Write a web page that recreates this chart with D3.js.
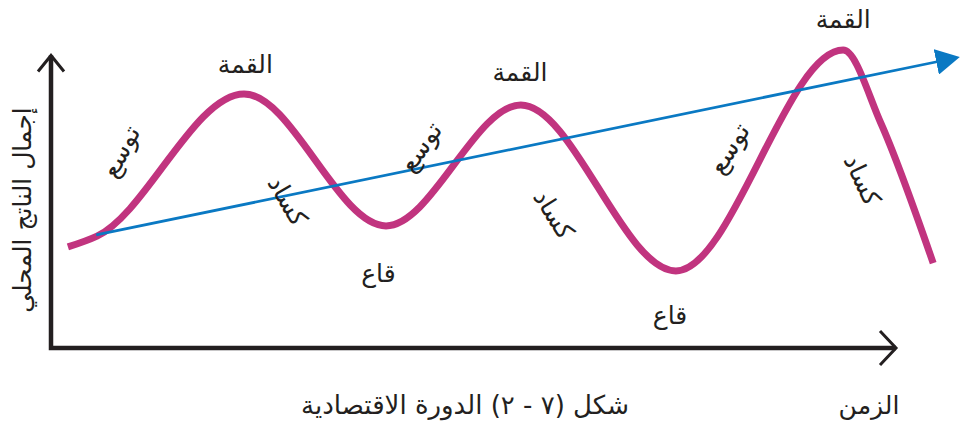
<!DOCTYPE html>
<html>
<head>
<meta charset="utf-8">
<script src="https://cdn.jsdelivr.net/npm/d3@7"></script>
<style>
  body { margin: 0; background: #fff; }
  svg text { font-family: "DejaVu Sans", "Noto Sans", sans-serif; fill: #231f20; }
</style>
</head>
<body>
<svg width="965" height="428"></svg>
<script>
// business cycle: time (t) vs GDP (v), in arbitrary units
var cycleT = [0.40, 1.09, 4.57, 7.93, 11.12, 14.79, 18.75, 19.64, 20.88];
var cycleV = [3.37, 3.73, 8.47, 4.07, 8.10, 2.57, 9.93, 7.50, 2.83];

var trendT = [1.07, 21.0];
var trendV = [3.77, 9.55];

// labels: text, t, v, rotation
var labelText = ["القمة", "القمة", "القمة", "قاع", "قاع",
                 "توسع", "توسع", "توسع", "كساد", "كساد", "كساد"];
var labelT = [4.60, 11.10, 18.75, 7.75, 14.65, 1.65, 8.75, 16.05, 5.60, 11.90, 19.2];
var labelV = [9.45, 9.20, 10.95, 2.50, 1.10, 6.55, 6.70, 6.65, 4.90, 4.45, 5.60];
var labelRot = [0, 0, 0, 0, 0, -62, -55, -58, 60, 58, 65];

var yTitle = "إجمال الناتج المحلي";
var xTitle = "الزمن";
var caption = "شكل (٧ - ٢) الدورة الاقتصادية";

var svg = d3.select("svg"),
    width = +svg.attr("width"),
    height = +svg.attr("height");

var x = d3.scaleLinear().domain([0, 20]).range([51, 896]);
var y = d3.scaleLinear().domain([0, 10]).range([348, 48]);

var axisColor = "#231f20",
    magenta = "#c1347f",
    blue = "#0a79c3";

var defs = svg.append("defs");
defs.append("marker")
    .attr("id", "blueHead")
    .attr("markerUnits", "userSpaceOnUse")
    .attr("viewBox", "0 -13 24 26")
    .attr("refX", 2)
    .attr("refY", 0)
    .attr("markerWidth", 24)
    .attr("markerHeight", 26)
    .attr("orient", "auto")
  .append("path")
    .attr("d", "M0,-13L24,0L0,13Z")
    .attr("fill", blue);

// axes
var axes = svg.append("g").attr("class", "axes")
    .attr("fill", "none")
    .attr("stroke", axisColor)
    .attr("stroke-width", 4.5);

axes.append("path")
    .attr("d", d3.line()([[x(0), y(9.75)], [x(0), y(0)], [x(20), y(0)]]))
    .attr("stroke-linejoin", "miter");

// open arrow heads
axes.append("path")
    .attr("stroke-width", 3)
    .attr("d", d3.line()([[x(0) - 13, y(9.75) + 16], [x(0), y(9.75)], [x(0) + 13, y(9.75) + 16]]));
axes.append("path")
    .attr("stroke-width", 3)
    .attr("d", d3.line()([[x(20) - 16, y(0) - 17], [x(20), y(0)], [x(20) - 16, y(0) + 17]]));

// cycle curve
var cycle = d3.zip(cycleT, cycleV);
svg.append("path")
    .datum(cycle)
    .attr("fill", "none")
    .attr("stroke", magenta)
    .attr("stroke-width", 7)
    .attr("stroke-linecap", "butt")
    .attr("d", d3.line()
      .x(function(d) { return x(d[0]); })
      .y(function(d) { return y(d[1]); })
      .curve(d3.curveMonotoneX));

// trend line
svg.append("path")
    .datum(d3.zip(trendT, trendV))
    .attr("fill", "none")
    .attr("stroke", blue)
    .attr("stroke-width", 2.8)
    .attr("marker-end", "url(#blueHead)")
    .attr("d", d3.line()
      .x(function(d) { return x(d[0]); })
      .y(function(d) { return y(d[1]); }));

// phase labels
svg.append("g")
  .selectAll("text")
    .data(labelText)
  .enter().append("text")
    .attr("text-anchor", "middle")
    .attr("dominant-baseline", "central")
    .attr("direction", "rtl")
    .style("font-size", "25px")
    .attr("transform", function(d, i) {
      return "translate(" + x(labelT[i]) + "," + y(labelV[i]) + ") rotate(" + labelRot[i] + ")";
    })
    .text(function(d) { return d; });

// titles
svg.append("text")
    .attr("transform", "translate(22," + 210 + ") rotate(-90)")
    .attr("text-anchor", "middle")
    .attr("dominant-baseline", "central")
    .attr("direction", "rtl")
    .style("font-size", "25px")
    .text(yTitle);

svg.append("text")
    .attr("x", 869)
    .attr("y", 405)
    .attr("text-anchor", "middle")
    .attr("dominant-baseline", "central")
    .attr("direction", "rtl")
    .style("font-size", "25px")
    .text(xTitle);

svg.append("text")
    .attr("x", 465)
    .attr("y", 405)
    .attr("text-anchor", "middle")
    .attr("dominant-baseline", "central")
    .attr("direction", "rtl")
    .style("font-size", "26px")
    .text(caption);
</script>
</body>
</html>
